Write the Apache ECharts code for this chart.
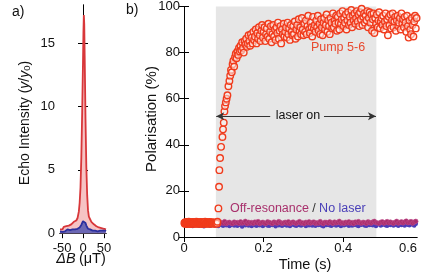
<!DOCTYPE html>
<html><head><meta charset="utf-8">
<script src="https://cdn.jsdelivr.net/npm/echarts@6/dist/echarts.min.js"></script>
<style>html,body{margin:0;padding:0;background:#fff}#c{width:436px;height:275px}</style>
</head><body><div id="c"></div>
<script>
// ---------- Panel a data ----------
const FIELD_UT = [-55,-52,-49,-46,-43,-40,-37,-34,-31,-28,-25,-22,-19,-16,-13,-10,-8,-6,-4,-2,0,1,2,3,4,6,8,10,12,14,17,20,23,26,29,32,35,38,41,44,47,50,53,55];
const ECHO_PUMP = [0.3,0.45,0.3,0.5,0.35,0.55,0.4,0.6,0.55,0.7,0.65,0.9,0.85,1.0,1.2,1.7,2.4,3.6,6.0,9.5,13.5,15.8,17.2,16.5,14.0,9.0,5.2,3.0,1.8,1.3,1.1,0.9,0.8,0.7,0.75,0.55,0.6,0.45,0.5,0.4,0.5,0.35,0.4,0.3];
const ECHO_NOLASER = [0.15,0.2,0.1,0.25,0.15,0.2,0.3,0.2,0.25,0.2,0.3,0.25,0.3,0.3,0.35,0.4,0.45,0.55,0.65,0.8,0.95,1.05,1.1,1.1,1.0,0.8,0.6,0.45,0.35,0.3,0.3,0.25,0.2,0.25,0.2,0.2,0.15,0.25,0.2,0.15,0.2,0.1,0.2,0.15];
const A_Y_TICKS = [0,5,10,15];
const A_X_TICKS = [-50,0,50];

// ---------- Panel b data ----------
const LASER_ON = 0.08, LASER_OFF = 0.483;
const B_X_TICKS = [0,0.2,0.4,0.585];
const B_X_TICK_LABELS = ['0','0.2','0.4','0.6'];
const B_Y_TICKS = [0,20,40,60,80,100];

const PRE_T0 = 0.001, PRE_DT = 0.001;
const PUMP_PRE = [6.1,5.7,6.4,5.9,6.2,5.6,6.5,6.0,5.8,6.3,
6.0,6.6,5.7,6.2,5.9,6.4,6.1,5.6,6.3,6.0,
5.8,6.5,6.2,5.9,6.1,6.4,5.7,6.0,6.3,5.8,
6.6,6.1,5.9,6.2,6.0,5.7,6.4,6.1,5.8,6.3,
6.0,6.5,5.9,6.2,5.6,6.1,6.4,5.8,6.0,6.3,
5.9,6.2,6.6,5.8,6.1,5.7,6.3,6.0,6.4,5.9,
6.1,5.8,6.2,6.5,6.0,5.7,6.3,6.1,5.9,6.4,
6.0,5.8,6.2,6.1,5.9,6.3,5.7,6.0,6.2,5.9,
6.1,6.0,5.8,6.6];
const RISE_T = [0.0864,0.088,0.0888,0.0906,0.0931,0.0965,0.098,0.0998,0.1015,0.103,0.105,0.107,0.109,0.1115,0.114];
const RISE_V = [12.4,21.8,29.0,34.3,39.1,43.4,46.7,49.6,54.5,56.8,58.4,60.0,61.5,65.4,67.7];
const PLATEAU_T0 = 0.116, PLATEAU_DT = 0.002;
const PUMP_PLATEAU = [
70,72.5,71.5,75,76.5,74,78,79.5,77.5,80.5,
79,82,80.5,83,81,84.5,82,80,85,83.5,
86,82.5,84,87.5,85,83,88,86.5,84,89,
85.5,87,90,84,88.5,86,91,87.5,85,89.5,
92,86.5,89,91,85,88,90.5,87,92.5,86,
89,91.5,84.5,88,92,87,90,85.5,91,88.5,
93,86,89.5,91.5,84,90,88,92.5,87,89,
91,86.5,93,88,90.5,85.5,92,89,87.5,91.5,
88,93.5,86,90,92,87,94.5,89.5,91,88,
95,90,87.5,92.5,89,94,88,91.5,96,90,
88.5,93,91,87,95.5,90.5,92,89,94,91,
96,89.5,92.5,88,94.5,91,87.5,93,95,90,
92,96.5,89,94,91.5,88,95,93,90.5,97,
91,94,92.5,96,89.5,95.5,93,90,97,92.5,
94.5,98,91.5,95,93,96.5,90,94,97.5,92,
95.5,93,98.5,91,96,94,97,92.5,95,98,
93.5,96.5,91.5,97.5,94.5,99,92,95.5,97,93,
96,94,98,91,95,97.5,93,96.5,89.5,94.5,
97,88.5,95,92.5,96.5,91,94,97.5,90.5,93.5,
95,92,96,90,93.5,97,91.5,94.5,87.5,95.5,
92,96.5,90.5,94,97,91,93.5,95.5,89.5,94,
96,91.5,93,95,90,97,92.5,94.5,91,95.5,
93,89,96,91.5,86.5,94,90,88,95,92,
87,93.5,96,90.5,95];

const BAND_T0 = 0.002, BAND_DT = 0.004;
const NO_LASER = [5.2,4.9,5.6,5.0,5.4,4.8,5.7,5.1,5.3,4.9,
5.5,5.0,4.7,5.4,5.8,5.1,4.9,5.3,5.6,5.0,
5.2,4.8,5.5,5.3,4.9,5.7,5.1,5.4,4.8,5.2,
5.6,5.0,5.3,4.9,5.5,5.2,4.6,5.4,5.1,5.7,
5.0,5.3,4.8,5.6,5.2,4.9,5.5,5.1,5.4,4.8,
5.3,5.7,5.0,4.9,5.4,5.2,5.6,4.7,5.3,5.1,
5.5,4.9,5.2,5.8,5.0,5.4,4.8,5.3,5.6,5.1,
4.9,5.5,5.2,5.0,5.7,5.3,4.8,5.4,5.1,5.6,
5.0,5.3,4.9,5.5,5.2,5.8,5.0,4.7,5.4,5.2,
5.6,5.1,4.9,5.3,5.5,5.0,5.7,5.2,4.8,5.4,
5.1,5.6,5.3,4.9,5.5,5.0,5.2,5.8,5.1,4.8,
5.4,5.3,5.6,5.0,4.9,5.5,5.2,5.7,5.1,5.3,
4.8,5.4,5.6,5.0,5.3,5.9,5.1,4.9,5.5,5.2,
5.7,5.0,5.4,5.3,4.9,5.6,5.2,5.5,5.0,5.8,
5.3,5.1,5.6,5.4,5.0,5.7];
const OFF_RES = [6.2,5.8,6.5,6.0,6.7,5.7,6.3,6.1,5.9,6.6,
6.0,6.4,5.8,6.2,6.8,5.9,6.3,6.0,6.5,5.7,
6.1,6.6,5.9,6.3,6.0,6.7,5.8,6.2,6.4,6.0,
5.8,6.5,6.1,6.3,5.9,6.6,6.0,6.2,6.8,5.8,
6.4,6.0,6.3,5.9,6.5,6.1,6.7,5.8,6.2,6.4,
6.0,5.9,6.6,6.3,6.1,5.8,6.5,6.2,6.0,6.7,
6.3,5.9,6.1,6.4,6.0,6.6,5.8,6.2,6.5,6.1,
5.9,6.3,6.7,6.0,6.2,5.8,6.4,6.1,6.6,6.0,
6.3,6.5,5.9,6.2,6.0,6.7,6.1,5.8,6.4,6.3,
6.0,6.6,6.2,5.9,6.5,6.1,6.3,6.8,6.0,6.2,
5.9,6.4,6.1,6.6,6.0,6.3,5.8,6.5,6.2,6.7,
6.1,6.0,6.4,6.2,5.9,6.6,6.3,6.0,6.5,6.8,
6.2,6.1,5.9,6.4,6.6,6.0,6.3,6.7,6.1,6.5,
6.2,5.9,6.4,6.8,6.0,6.3,6.6,6.1,6.5,6.9,
6.2,6.4,6.7,6.0,6.5,6.8];

// ---------- build ----------
const FONT = 'Liberation Sans, Arial, Helvetica, sans-serif';
const pairs = (xs, ys) => xs.map((x, i) => [x, ys[i]]);
const uniform = (t0, dt, ys) => ys.map((y, i) => [+(t0 + dt * i).toFixed(5), y]);

const pumpData = uniform(PRE_T0, PRE_DT, PUMP_PRE)
  .concat(pairs(RISE_T, RISE_V))
  .concat(uniform(PLATEAU_T0, PLATEAU_DT, PUMP_PLATEAU));

const axLine = {show: true, lineStyle: {color: '#000', width: 1}};
const tickIn = vals => ({show: true, inside: true, length: 5, customValues: vals, lineStyle: {color: '#000', width: 1}});
const lblStyle = {color: '#111', fontSize: 13, fontFamily: FONT};

const chart = echarts.init(document.getElementById('c'), null, {renderer: 'canvas'});
chart.setOption({
  animation: false,
  backgroundColor: '#fff',
  grid: [
    {left: 60, top: 5, width: 46, height: 232, containLabel: false},
    {left: 184, top: 6, width: 233, height: 231, containLabel: false}
  ],
  xAxis: [
    {gridIndex: 0, type: 'value', min: -55, max: 55, position: 'bottom',
     axisLine: axLine, axisTick: tickIn(A_X_TICKS), splitLine: {show: false},
     axisLabel: Object.assign({customValues: A_X_TICKS, margin: 5}, lblStyle)},
    {gridIndex: 0, type: 'value', min: -55, max: 55, position: 'top',
     axisLine: axLine, axisTick: tickIn(A_X_TICKS), splitLine: {show: false}, axisLabel: {show: false}},
    {gridIndex: 1, type: 'value', min: 0, max: 0.585, position: 'bottom',
     axisLine: axLine, axisTick: tickIn(B_X_TICKS.slice(0, 3)), splitLine: {show: false},
     axisLabel: Object.assign({customValues: B_X_TICKS, margin: 5, alignMaxLabel: 'right',
       formatter: v => B_X_TICK_LABELS[B_X_TICKS.indexOf(v)] ?? ''}, lblStyle)},
    {gridIndex: 1, type: 'value', min: 0, max: 0.585, position: 'top',
     axisLine: axLine, axisTick: tickIn(B_X_TICKS.slice(0, 3)), splitLine: {show: false}, axisLabel: {show: false}}
  ],
  yAxis: [
    {gridIndex: 0, type: 'value', min: -0.3, max: 18, position: 'left',
     axisLine: axLine, axisTick: tickIn(A_Y_TICKS), splitLine: {show: false},
     axisLabel: Object.assign({customValues: A_Y_TICKS, margin: 5}, lblStyle)},
    {gridIndex: 0, type: 'value', min: -0.3, max: 18, position: 'right',
     axisLine: axLine, axisTick: tickIn(A_Y_TICKS), splitLine: {show: false}, axisLabel: {show: false}},
    {gridIndex: 1, type: 'value', min: 0, max: 100, position: 'left',
     axisLine: axLine, axisTick: tickIn(B_Y_TICKS), splitLine: {show: false},
     axisLabel: Object.assign({customValues: B_Y_TICKS, margin: 4}, lblStyle)},
    {gridIndex: 1, type: 'value', min: 0, max: 100, position: 'right',
     axisLine: axLine, axisTick: tickIn(B_Y_TICKS), splitLine: {show: false}, axisLabel: {show: false}}
  ],
  series: [
    {type: 'line', xAxisIndex: 0, yAxisIndex: 0, data: pairs(FIELD_UT, ECHO_PUMP),
     showSymbol: false, symbol: 'none', lineStyle: {color: '#d8373a', width: 1.8},
     areaStyle: {color: '#f6c3c4', origin: 'auto', opacity: 1}, z: 2},
    {type: 'line', xAxisIndex: 0, yAxisIndex: 0, data: pairs(FIELD_UT, ECHO_NOLASER),
     showSymbol: false, symbol: 'none', lineStyle: {color: '#2b2f9e', width: 1.8},
     areaStyle: {color: '#6c67b4', origin: 'auto', opacity: 1}, z: 3},
    {type: 'scatter', xAxisIndex: 2, yAxisIndex: 2, data: [], z: 1, silent: true,
     markArea: {silent: true, itemStyle: {color: '#e6e6e6'}, data: [[{xAxis: LASER_ON}, {xAxis: LASER_OFF}]]},
     markLine: {silent: true, symbol: ['none', 'arrow'], symbolSize: [6, 8], label: {show: false},
       lineStyle: {color: '#333', width: 1, type: 'solid'},
       data: [[{coord: [0.2165, 52.4]}, {coord: [LASER_ON + 0.001, 52.4]}],
              [{coord: [0.3515, 52.4]}, {coord: [LASER_OFF - 0.001, 52.4]}]]}},
    {type: 'scatter', xAxisIndex: 2, yAxisIndex: 2, data: uniform(BAND_T0, BAND_DT, NO_LASER),
     symbolSize: 4.5, itemStyle: {color: '#4a3bb8', opacity: 1}, z: 2},
    {type: 'scatter', xAxisIndex: 2, yAxisIndex: 2, data: uniform(BAND_T0, BAND_DT, OFF_RES),
     symbolSize: 4.5, itemStyle: {color: '#a82d6c', borderColor: '#c04888', borderWidth: 0.6, opacity: 1}, z: 3},
    {type: 'scatter', xAxisIndex: 2, yAxisIndex: 2, data: pumpData,
     symbolSize: 6.5, itemStyle: {color: 'rgba(255,240,236,0.55)', borderColor: '#f03b1c', borderWidth: 1.4, opacity: 1}, z: 4}
  ],
  graphic: [
    {type: 'text', left: 12, top: 5, style: {text: 'a)', fontSize: 14, fontFamily: FONT, fill: '#111'}},
    {type: 'text', left: 126, top: 3, style: {text: 'b)', fontSize: 14, fontFamily: FONT, fill: '#111'}},
    {type: 'text', x: 25, y: 123, rotation: Math.PI / 2,
     style: {text: '{n|Echo Intensity (}{i|y}{n|/}{i|y}{s|0}{n|)}', align: 'center', verticalAlign: 'middle', fill: '#111',
       rich: {n: {fontSize: 14, fontFamily: FONT, fill: '#111'},
              i: {fontSize: 14, fontFamily: FONT, fontStyle: 'italic', fill: '#111'},
              s: {fontSize: 9.5, fontFamily: FONT, fill: '#111', verticalAlign: 'bottom', padding: [5, 0, 0, 0]}}}},
    {type: 'text', x: 81, y: 259,
     style: {text: '{i|ΔB} {n|(μT)}', align: 'center', verticalAlign: 'middle',
       rich: {n: {fontSize: 14.5, fontFamily: FONT, fill: '#111'},
              i: {fontSize: 14.5, fontFamily: FONT, fontStyle: 'italic', fill: '#111'}}}},
    {type: 'text', x: 152, y: 119, rotation: Math.PI / 2,
     style: {text: 'Polarisation (%)', align: 'center', verticalAlign: 'middle', fontSize: 15, fontFamily: FONT, fill: '#111'}},
    {type: 'text', x: 305, y: 265,
     style: {text: 'Time (s)', align: 'center', verticalAlign: 'middle', fontSize: 14.5, fontFamily: FONT, fill: '#111'}},
    {type: 'text', x: 298, y: 116, z: 10,
     style: {text: 'laser on', align: 'center', verticalAlign: 'middle', fontSize: 12.5, fontFamily: FONT, fill: '#111'}},
    {type: 'text', x: 338, y: 48, z: 10,
     style: {text: 'Pump 5-6', align: 'center', verticalAlign: 'middle', fontSize: 12.5, fontFamily: FONT, fill: '#e84a30'}},
    {type: 'text', x: 230, y: 209, z: 10,
     style: {text: '{o|Off-resonance} {d|/} {b|No laser}', align: 'left', verticalAlign: 'middle',
       rich: {o: {fontSize: 12.5, fontFamily: FONT, fill: '#a8306c'},
              d: {fontSize: 12.5, fontFamily: FONT, fill: '#333'},
              b: {fontSize: 12.5, fontFamily: FONT, fill: '#4a40b8'}}}}
  ]
});
</script>
</body></html>
